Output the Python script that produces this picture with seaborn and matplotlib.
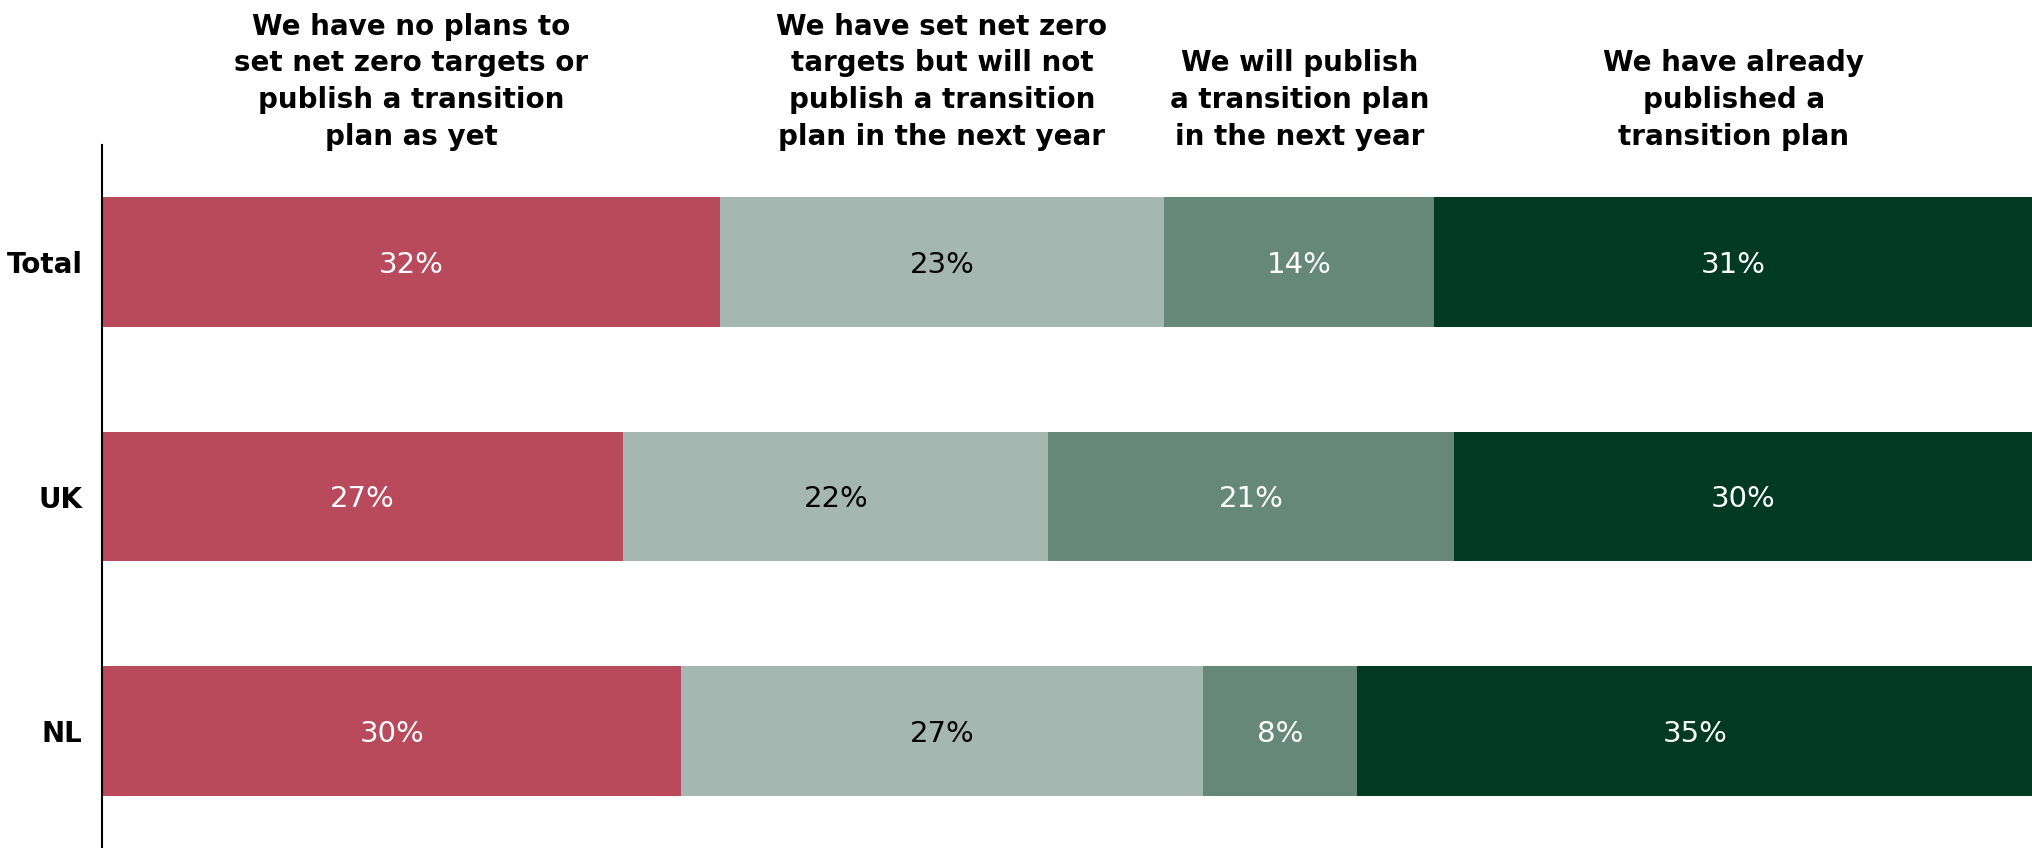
import numpy as np
import pandas as pd
import matplotlib
matplotlib.use("Agg")
import matplotlib.pyplot as plt
import matplotlib.transforms as mtransforms
import seaborn as sns

# Survey answers by region (percent of respondents)
regions = ["Total", "UK", "NL"]
answers = [
    "We have no plans to\nset net zero targets or\npublish a transition\nplan as yet",
    "We have set net zero\ntargets but will not\npublish a transition\nplan in the next year",
    "We will publish\na transition plan\nin the next year",
    "We have already\npublished a\ntransition plan",
]
no_plans = [32, 27, 30]
targets_no_plan = [23, 22, 27]
plan_next_year = [14, 21, 8]
already_published = [31, 30, 35]

series = [no_plans, targets_no_plan, plan_next_year, already_published]
colors = ["#B84A5C", "#A4B8B1", "#66887A", "#003A24"]
text_colors = ["white", "black", "white", "white"]

sns.set_theme(style="white")
plt.rcParams["font.family"] = ["DejaVu Sans"]

vals = np.array(series, dtype=float)          # shape (answers, regions)
cum = np.cumsum(vals, axis=0)
left = cum - vals

df = pd.DataFrame({"region": regions})
for i in range(len(series)):
    df[f"cum{i}"] = cum[i]
    df[f"val{i}"] = vals[i]

fig = plt.figure(figsize=(20.33, 8.48), dpi=100)
ax = fig.add_axes([102 / 2033, 0.0, 1 - 102 / 2033, (848 - 145) / 848])

# Stacked bars: draw cumulative totals from the outermost segment inwards
for i in reversed(range(len(series))):
    sns.barplot(data=df, x=f"cum{i}", y="region", order=regions, orient="h",
                color=colors[i], width=0.554, saturation=1, ax=ax,
                edgecolor="none", linewidth=0)

ax.set_xlim(0, 100)
ax.set_ylim(2.5, -0.5)

# Segment value labels
for i in range(len(series)):
    for j in range(len(regions)):
        ax.text(left[i, j] + vals[i, j] / 2, j + 0.012, f"{vals[i, j]:.0f}%",
                ha="center", va="center", fontsize=21, color=text_colors[i])

# Column headers centred over the Total segments
trans = mtransforms.blended_transform_factory(ax.transData, fig.transFigure)
for i, label in enumerate(answers):
    ax.text(left[i, 0] + vals[i, 0] / 2, 1 - 151 / 848, label, transform=trans,
            ha="center", va="bottom", fontsize=20, fontweight="bold",
            color="black", linespacing=1.4)

ax.set_xlabel("")
ax.set_ylabel("")
ax.set_xticks([])
ax.tick_params(axis="y", length=0, pad=14)
for lab in ax.get_yticklabels():
    lab.set_fontweight("bold")
    lab.set_fontsize(20)
    lab.set_color("black")

for s in ["top", "right", "bottom"]:
    ax.spines[s].set_visible(False)
ax.spines["left"].set_color("black")
ax.spines["left"].set_linewidth(1.5)

fig.savefig("out.png", dpi=100, facecolor="white")
